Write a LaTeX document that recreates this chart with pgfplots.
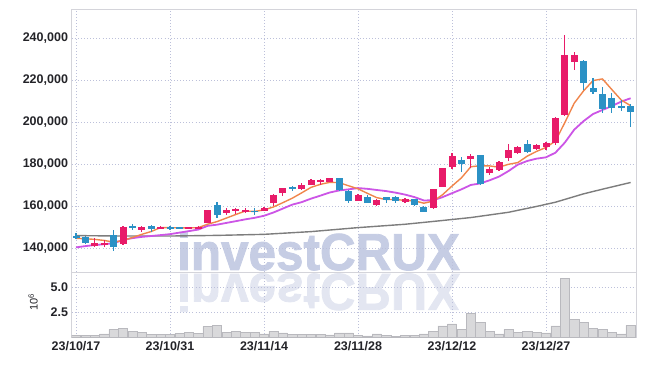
\documentclass[border=0pt]{standalone}
\usepackage{pgfplots}
\pgfplotsset{compat=1.18}
\usepackage{pgfplotstable}
\usepackage{fontspec}
\setmainfont{Liberation Sans}
\newfontfamily\wmfont[UprightFont={* Bold}, FakeBold=1.6]{Liberation Sans}
\definecolor{cup}{RGB}{232,27,105}
\definecolor{cdown}{RGB}{43,145,197}
\definecolor{mafive}{RGB}{240,133,75}
\definecolor{maten}{RGB}{204,85,230}
\definecolor{malong}{RGB}{125,125,125}
\definecolor{gridc}{RGB}{188,192,218}
\definecolor{framec}{RGB}{212,212,218}
\definecolor{wm}{RGB}{198,205,228}
\definecolor{wmr}{RGB}{227,230,241}
\definecolor{volf}{RGB}{217,217,219}
\definecolor{vold}{RGB}{185,185,190}
\definecolor{lbl}{RGB}{35,35,40}

% rising candles (close >= open)
\pgfplotstableread{
i o h l c
2 141100 144600 140600 142500
3 141400 144000 140500 142500
5 141800 150500 141500 150000
7 148700 150500 147800 150000
9 149400 150400 149200 150000
12 149400 150200 149200 150000
13 149400 150300 149200 150000
14 152100 158300 152000 158100
16 156500 159000 155700 158100
17 157700 159200 156200 158400
18 157400 159000 156600 158000
20 157800 159500 157500 159200
21 161300 165500 160000 165200
22 166000 168700 164700 168400
24 168000 170900 167800 170000
25 170000 172700 169800 172400
26 171400 172700 169900 172400
27 171600 173500 171300 173200
30 162500 165500 162200 165200
32 160500 163200 160200 162900
35 161900 163700 161600 163200
38 158900 168300 158700 168000
39 169200 178300 168900 178000
40 178700 185100 177500 183800
42 182500 184800 178000 183800
44 175900 178700 174800 177600
45 177100 181500 176800 180800
46 183000 189400 181400 186700
47 185100 188800 184900 188000
49 187100 189700 186800 189000
50 188200 190500 186700 190100
51 189900 202500 189000 202000
52 203300 241400 203000 231900
53 228700 233500 224800 231900
}\upc

% falling candles (close < open)
\pgfplotstableread{
i o h l c
0 145700 147000 144100 145100
1 145400 145800 142000 142300
4 146200 148400 138700 140300
6 150600 151600 148600 149700
8 150500 150800 147500 149200
10 150000 150300 148700 149300
11 149900 150100 149000 149300
15 160500 162000 154100 155700
19 157800 159000 155900 157200
23 169200 169700 167100 168400
28 173200 173500 167000 167600
29 167100 167500 161600 162500
31 164400 165000 161300 161600
33 164100 164400 161600 162900
34 164100 164600 161400 162500
36 163200 163500 160200 160500
37 159700 160000 157000 157300
41 181900 183500 176300 179900
43 184300 184500 170000 170300
48 189400 191400 185100 185600
54 229000 229300 215200 218400
55 216000 220800 213200 214400
56 213200 216500 204400 206000
57 211300 214000 204100 206500
58 207500 210500 205400 206900
59 207600 208500 197800 204900
}\downc

% moving averages
\pgfplotstableread{
i m5 m10
0 144600 140300
1 144400 140900
2 144100 141400
3 143600 141800
4 142800 142300
5 143520 143800
6 145000 144700
7 146500 145300
8 147840 145700
9 149760 146140
10 149660 146590
11 149640 147320
12 149580 148040
13 149680 148760
14 151320 150540
15 152560 151110
16 154260 151950
17 155960 152770
18 157580 153630
19 157420 154370
20 158120 155340
21 159540 156900
22 161580 158770
23 163700 160640
24 166240 161830
25 168880 163500
26 170320 164930
27 171280 166430
28 171120 167410
29 169620 167930
30 168180 168530
31 166020 168170
32 163960 167620
33 163080 167100
34 163080 166350
35 162680 165430
36 162460 164240
37 161340 162650
38 162300 162690
39 165400 164240
40 169520 166100
41 173400 167930
42 178700 170020
43 179160 170730
44 179080 172240
45 178480 174000
46 179840 176620
47 180680 179690
48 183740 181450
49 186020 182550
50 187880 183180
51 190940 185390
52 199720 190200
53 208980 196360
54 214860 200440
55 219720 203800
56 220520 205730
57 215440 207580
58 210460 209720
59 207760 211310
}\mas

\pgfplotstableread{
i m
0 145900
5 145700
10 145700
15 146000
20 146500
25 147800
30 149700
35 151300
39 153100
42 154500
46 157000
49 159800
51 161800
54 165800
56 168000
59 171200
}\malongt

% volume in millions
\pgfplotstableread{
i v
0 0.18
1 0.18
2 0.18
3 0.35
4 0.81
5 0.91
6 0.64
7 0.51
8 0.32
9 0.32
10 0.28
11 0.41
12 0.51
13 0.41
14 1.07
15 1.20
16 0.54
17 0.64
18 0.54
19 0.54
20 0.35
21 0.64
22 0.45
23 0.32
24 0.32
25 0.32
26 0.32
27 0.25
28 0.45
29 0.45
30 0.21
31 0.15
32 0.35
33 0.21
34 0.12
35 0.21
36 0.21
37 0.35
38 0.64
39 1.14
40 1.34
41 0.81
42 2.40
43 1.50
44 0.64
45 0.35
46 0.81
47 0.54
48 0.64
49 0.54
50 0.45
51 1.14
52 5.86
53 1.83
54 1.50
55 0.94
56 0.81
57 0.54
58 0.35
59 1.20
}\volt

\pgfplotsset{
  common/.style={
    scale only axis,
    anchor=south west,
    width=564.5pt,
    xmin=-0.48, xmax=59.57,
    xtick={0,10,20,30,40,50},
    axis line style={draw=framec, line width=0.8pt},
    major tick length=0pt,
    grid=major,
    major grid style={draw=gridc, dash pattern=on 0.9pt off 2.2pt, line width=0.6pt},
    /pgf/number format/assume math mode=true,
    tick label style={font=\bfseries\fontsize{12.5}{13}\selectfont, text=lbl},
    clip=true,
  },
  candle/.style 2 args={draw=none, mark=none, forget plot, error bars/.cd, y dir=both, y explicit, error mark=none,
    error bar style={draw=#1, solid, line cap=butt, line width=#2}},
}

\begin{document}
\begin{tikzpicture}
\useasboundingbox (0pt,0pt) rectangle (645pt,366pt);
% watermark
\node[anchor=base west, inner sep=0pt, text=wm, font=\wmfont\fontsize{52}{52}\selectfont] at (177pt,96pt) {\scalebox{0.95}[1]{investCRUX}};
\node[anchor=base west, inner sep=0pt, text=wmr, font=\wmfont\fontsize{52}{52}\selectfont] at (177pt,92pt) {\scalebox{0.95}[-1]{investCRUX}};

\begin{axis}[common,
  at={(71.5pt,94pt)},
  height=263pt,
  ymin=128571, ymax=253810,
  ytick={140000,160000,180000,200000,220000,240000},
  scaled y ticks=false,
  yticklabel style={/pgf/number format/.cd, fixed, 1000 sep={,}},
  xticklabels={},
]
\addplot[malong, line width=1.4pt, line join=round, mark=none] table[x=i,y=m]{\malongt};
\addplot[maten, line width=1.8pt, line join=round, mark=none] table[x=i,y=m10]{\mas};
\addplot[mafive, line width=1.4pt, line join=round, mark=none] table[x=i,y=m5]{\mas};
% wicks
\addplot[candle={cup}{1.3pt}]
  table[x=i, y expr={(\thisrow{h}+\thisrow{l})/2}, y error expr={(\thisrow{h}-\thisrow{l})/2}]{\upc};
\addplot[candle={cdown}{1.3pt}]
  table[x=i, y expr={(\thisrow{h}+\thisrow{l})/2}, y error expr={(\thisrow{h}-\thisrow{l})/2}]{\downc};
% bodies
\addplot[candle={cup}{7pt}]
  table[x=i, y expr={(\thisrow{o}+\thisrow{c})/2}, y error expr={(\thisrow{c}-\thisrow{o})/2}]{\upc};
\addplot[candle={cdown}{7pt}]
  table[x=i, y expr={(\thisrow{o}+\thisrow{c})/2}, y error expr={(\thisrow{o}-\thisrow{c})/2}]{\downc};
\end{axis}

\begin{axis}[common,
  at={(71.5pt,28.5pt)},
  height=65.5pt,
  ymin=0, ymax=6.49,
  ytick={2.5,5},
  yticklabels={2.5,5.0},
  xticklabels={23/10/17,23/10/31,23/11/14,23/11/28,23/12/12,23/12/27},
  ylabel={10\textsuperscript{6}},
  ylabel style={at={(axis description cs:-0.068,0.54)}, anchor=center, font=\fontsize{11}{11}\selectfont, text=lbl},
]
\addplot[ybar, bar width=9.3pt, fill=volf, draw=vold, line width=0.5pt] table[x=i,y=v]{\volt};
\end{axis}
\end{tikzpicture}
\end{document}
